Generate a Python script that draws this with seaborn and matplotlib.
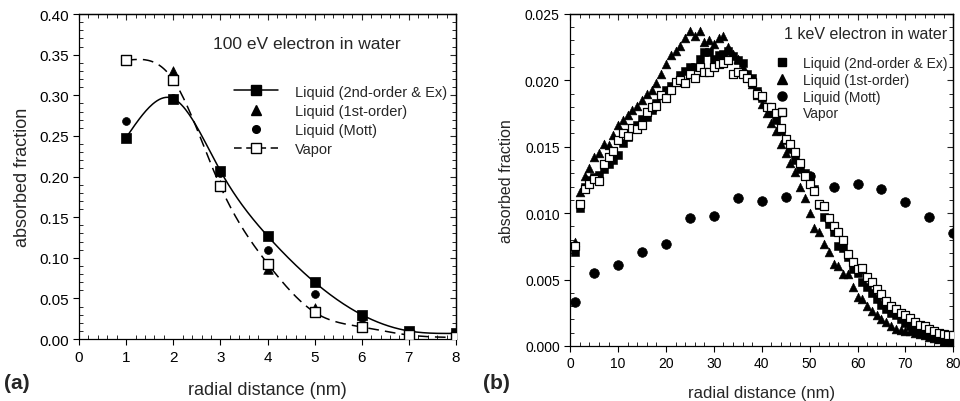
import numpy as np
import pandas as pd
import matplotlib
matplotlib.use("Agg")
import matplotlib.pyplot as plt
from matplotlib.lines import Line2D
from matplotlib.ticker import MultipleLocator, FormatStrFormatter
import seaborn as sns

# ---------------- data: panel (a) 100 eV ----------------
a_x = [1, 2, 3, 4, 5, 6, 7, 8]
a_second = [0.248, 0.296, 0.207, 0.127, 0.070, 0.030, 0.010, 0.007]
a_first = [0.343, 0.330, 0.190, 0.086, 0.038, 0.017, 0.005, 0.002]
a_mott = [0.269, 0.297, 0.205, 0.110, 0.055, 0.026, 0.008, 0.005]
a_vapor = [0.343, 0.319, 0.188, 0.093, 0.033, 0.015, 0.005, 0.002]

# ---------------- data: panel (b) 1 keV ----------------
b_x = list(range(1, 81))
b_second = [
    0.0071, 0.0104, 0.0120, 0.0125, 0.0127, 0.0129, 0.0133, 0.0137, 0.0140, 0.0144,
    0.0153, 0.0157, 0.0163, 0.0166, 0.0171, 0.0172, 0.0178, 0.0183, 0.0189, 0.0193,
    0.0196, 0.0199, 0.0204, 0.0207, 0.0210, 0.0210, 0.0216, 0.0221, 0.0221, 0.0216,
    0.0219, 0.0220, 0.0222, 0.0218, 0.0215, 0.0213, 0.0205, 0.0202, 0.0192, 0.0187,
    0.0180, 0.0175, 0.0170, 0.0162, 0.0155, 0.0148, 0.0140, 0.0133, 0.0130, 0.0127,
    0.0118, 0.0106, 0.0097, 0.0092, 0.0086, 0.0075, 0.0074, 0.0067, 0.0058, 0.0055,
    0.0048, 0.0044, 0.0040, 0.0035, 0.0031, 0.0028, 0.0025, 0.0023, 0.0020, 0.0017,
    0.0015, 0.0013, 0.0011, 0.0010, 0.0008, 0.0007, 0.0005, 0.0004, 0.0003, 0.0002,
]
b_first = [
    0.0078, 0.0116, 0.0128, 0.0134, 0.0142, 0.0145, 0.0152, 0.0151, 0.0159, 0.0166,
    0.0170, 0.0174, 0.0178, 0.0181, 0.0185, 0.0190, 0.0193, 0.0198, 0.0205, 0.0212,
    0.0219, 0.0222, 0.0226, 0.0232, 0.0237, 0.0233, 0.0237, 0.0229, 0.0230, 0.0227,
    0.0232, 0.0233, 0.0225, 0.0220, 0.0216, 0.0210, 0.0203, 0.0197, 0.0189, 0.0182,
    0.0175, 0.0168, 0.0162, 0.0152, 0.0145, 0.0138, 0.0131, 0.0120, 0.0111, 0.0100,
    0.0089, 0.0086, 0.0077, 0.0071, 0.0062, 0.0060, 0.0054, 0.0054, 0.0044, 0.0037,
    0.0035, 0.0030, 0.0026, 0.0023, 0.0020, 0.0018, 0.0015, 0.0013, 0.0012, 0.0011,
    0.0011, 0.0010, 0.0009, 0.0008, 0.0007, 0.0006, 0.0005, 0.0004, 0.0002, 0.0001,
]
b_vapor = [
    0.0075, 0.0107, 0.0118, 0.0122, 0.0126, 0.0124, 0.0137, 0.0142, 0.0147, 0.0155,
    0.0160, 0.0158, 0.0164, 0.0163, 0.0166, 0.0176, 0.0180, 0.0181, 0.0189, 0.0187,
    0.0193, 0.0199, 0.0200, 0.0198, 0.0205, 0.0202, 0.0210, 0.0206, 0.0206, 0.0210,
    0.0212, 0.0213, 0.0215, 0.0205, 0.0206, 0.0205, 0.0202, 0.0199, 0.0190, 0.0188,
    0.0180, 0.0180, 0.0175, 0.0164, 0.0156, 0.0152, 0.0146, 0.0138, 0.0128, 0.0122,
    0.0117, 0.0107, 0.0105, 0.0096, 0.0090, 0.0086, 0.0080, 0.0069, 0.0063, 0.0058,
    0.0059, 0.0052, 0.0048, 0.0043, 0.0039, 0.0034, 0.0030, 0.0028, 0.0025, 0.0023,
    0.0021, 0.0018, 0.0016, 0.0015, 0.0013, 0.0011, 0.0010, 0.0009, 0.0008, 0.0008,
]
b_mott_x = [1, 5, 10, 15, 20, 25, 30, 35, 40, 45, 50, 55, 60, 65, 70, 75, 80]
b_mott = [0.0033, 0.0055, 0.0061, 0.0071, 0.0077, 0.0096, 0.0098, 0.0111, 0.0109,
          0.0112, 0.0128, 0.0120, 0.0122, 0.0118, 0.0108, 0.0097, 0.0085]

legend_labels = ["Liquid (2nd-order & Ex)", "Liquid (1st-order)", "Liquid (Mott)", "Vapor"]


def natural_spline(x, y, n=300):
    x = np.asarray(x, float)
    y = np.asarray(y, float)
    k = len(x)
    h = np.diff(x)
    A = np.zeros((k, k))
    r = np.zeros(k)
    A[0, 0] = 1
    A[-1, -1] = 1
    for i in range(1, k - 1):
        A[i, i - 1] = h[i - 1]
        A[i, i] = 2 * (h[i - 1] + h[i])
        A[i, i + 1] = h[i]
        r[i] = 3 * ((y[i + 1] - y[i]) / h[i] - (y[i] - y[i - 1]) / h[i - 1])
    c = np.linalg.solve(A, r)
    xs = np.linspace(x[0], x[-1], n)
    idx = np.clip(np.searchsorted(x, xs) - 1, 0, k - 2)
    b = (y[1:] - y[:-1]) / h - h * (2 * c[:-1] + c[1:]) / 3
    d = (c[1:] - c[:-1]) / (3 * h)
    t = xs - x[idx]
    ys = y[idx] + b[idx] * t + c[idx] * t ** 2 + d[idx] * t ** 3
    return xs, ys


sns.set_theme(style="white")
plt.rcParams["font.family"] = ["Liberation Sans", "DejaVu Sans"]
plt.rcParams["axes.edgecolor"] = "black"
plt.rcParams["axes.linewidth"] = 0.9

fig = plt.figure(figsize=(9.6, 4.02), dpi=100)
axA = fig.add_axes([0.0823, 0.154, 0.3927, 0.8085])
axB = fig.add_axes([0.594, 0.137, 0.399, 0.826])


def style_ticks(ax, xmaj, xmin, ymaj, ymin, yfmt, lsize):
    ax.xaxis.set_major_locator(MultipleLocator(xmaj))
    ax.xaxis.set_minor_locator(MultipleLocator(xmin))
    ax.yaxis.set_major_locator(MultipleLocator(ymaj))
    ax.yaxis.set_minor_locator(MultipleLocator(ymin))
    ax.yaxis.set_major_formatter(FormatStrFormatter(yfmt))
    ax.tick_params(which="major", direction="out", length=4, width=0.8,
                   labelsize=lsize, colors="black", bottom=True, left=True)
    ax.tick_params(which="minor", direction="in", length=3, width=0.7,
                   bottom=True, left=True)
    top = ax.secondary_xaxis("top")
    top.xaxis.set_major_locator(MultipleLocator(xmaj))
    top.xaxis.set_minor_locator(MultipleLocator(xmin))
    top.tick_params(which="major", direction="in", length=4, width=0.8)
    top.tick_params(which="minor", direction="in", length=3, width=0.7)
    top.set_xticklabels([])
    right = ax.secondary_yaxis("right")
    right.yaxis.set_major_locator(MultipleLocator(ymaj))
    right.yaxis.set_minor_locator(MultipleLocator(ymin))
    right.tick_params(which="major", direction="in", length=4, width=0.8)
    right.tick_params(which="minor", direction="in", length=3, width=0.7)
    right.set_yticklabels([])
    for s in ax.spines.values():
        s.set_visible(True)
        s.set_color("black")


# ---------------- panel (a) ----------------
dfA = pd.DataFrame({"x": a_x, "second": a_second, "first": a_first,
                    "mott": a_mott, "vapor": a_vapor})
sx, sy = natural_spline(a_x, a_second)
sns.lineplot(x=sx, y=sy, ax=axA, color="black", lw=1.1)
vx, vy = natural_spline(a_x, a_vapor)
sns.lineplot(x=vx, y=vy, ax=axA, color="black", lw=1.1, linestyle=(0, (7, 4)))
sns.scatterplot(data=dfA, x="x", y="first", ax=axA, marker="^", s=48,
                color="black", edgecolor="black", linewidth=0.5, zorder=3)
sns.scatterplot(data=dfA, x="x", y="mott", ax=axA, marker="o", s=32,
                color="black", edgecolor="black", linewidth=0.5, zorder=3)
sns.scatterplot(data=dfA, x="x", y="second", ax=axA, marker="s", s=46,
                color="black", edgecolor="black", linewidth=0.5, zorder=4)
sns.scatterplot(data=dfA, x="x", y="vapor", ax=axA, marker="s", s=46,
                color="white", edgecolor="black", linewidth=1.0, zorder=5)
axA.set_xlim(0, 8)
axA.set_ylim(0, 0.40)
style_ticks(axA, 1, 0.2, 0.05, 0.01, "%.2f", 11)
axA.set_xlabel("radial distance (nm)", fontsize=13, va="top")
axA.xaxis.set_label_coords(0.5, -0.128)
axA.set_ylabel("absorbed fraction", fontsize=13, labelpad=6)
axA.text(0.852, 0.91, "100 eV electron in water", transform=axA.transAxes,
         ha="right", va="center", fontsize=12.5)
handlesA = [
    Line2D([], [], color="black", lw=1.1, marker="s", markersize=6.5, markerfacecolor="black"),
    Line2D([], [], color="black", lw=0, marker="^", markersize=6.5, markerfacecolor="black"),
    Line2D([], [], color="black", lw=0, marker="o", markersize=5.5, markerfacecolor="black"),
    Line2D([], [], color="black", lw=1.1, linestyle=(0, (5, 3)), marker="s", markersize=6.5,
           markerfacecolor="white"),
]
axA.legend(handlesA, legend_labels, loc="upper right", bbox_to_anchor=(1.0, 0.81),
           frameon=False, fontsize=10.5, handlelength=3.0, handletextpad=1.2,
           labelspacing=0.35, borderaxespad=0.2)
fig.text(0.004, 0.047, "(a)", fontsize=15, fontweight="bold", ha="left", va="center")

# ---------------- panel (b) ----------------
dfB = pd.DataFrame({"x": b_x, "second": b_second, "first": b_first, "vapor": b_vapor})
dfM = pd.DataFrame({"x": b_mott_x, "mott": b_mott})
sns.scatterplot(data=dfM, x="x", y="mott", ax=axB, marker="o", s=48,
                color="black", edgecolor="black", linewidth=0.5, zorder=3)
sns.scatterplot(data=dfB, x="x", y="first", ax=axB, marker="^", s=40,
                color="black", edgecolor="black", linewidth=0.4, zorder=3)
sns.scatterplot(data=dfB, x="x", y="second", ax=axB, marker="s", s=34,
                color="black", edgecolor="black", linewidth=0.4, zorder=4)
sns.scatterplot(data=dfB, x="x", y="vapor", ax=axB, marker="s", s=34,
                color="white", edgecolor="black", linewidth=0.9, zorder=5)
axB.set_xlim(0, 80)
axB.set_ylim(0, 0.025)
style_ticks(axB, 10, 2, 0.005, 0.001, "%.3f", 10)
axB.set_xlabel("radial distance (nm)", fontsize=12, va="top")
axB.xaxis.set_label_coords(0.5, -0.118)
axB.set_ylabel("absorbed fraction", fontsize=11.5, labelpad=8)
axB.text(0.985, 0.94, "1 keV electron in water", transform=axB.transAxes,
         ha="right", va="center", fontsize=11.5)
handlesB = [
    Line2D([], [], lw=0, marker="s", markersize=6, color="black", markerfacecolor="black"),
    Line2D([], [], lw=0, marker="^", markersize=7, color="black", markerfacecolor="black"),
    Line2D([], [], lw=0, marker="o", markersize=6.5, color="black", markerfacecolor="black"),
    Line2D([], [], lw=0, marker="s", markersize=6, color="black", markerfacecolor="white"),
]
axB.legend(handlesB, legend_labels, loc="upper right", bbox_to_anchor=(1.0, 0.89),
           frameon=False, fontsize=10, handlelength=1.0, handletextpad=1.0,
           labelspacing=0.2, borderaxespad=0.0)
fig.text(0.503, 0.047, "(b)", fontsize=15, fontweight="bold", ha="left", va="center")

fig.savefig("out.png", dpi=100)
